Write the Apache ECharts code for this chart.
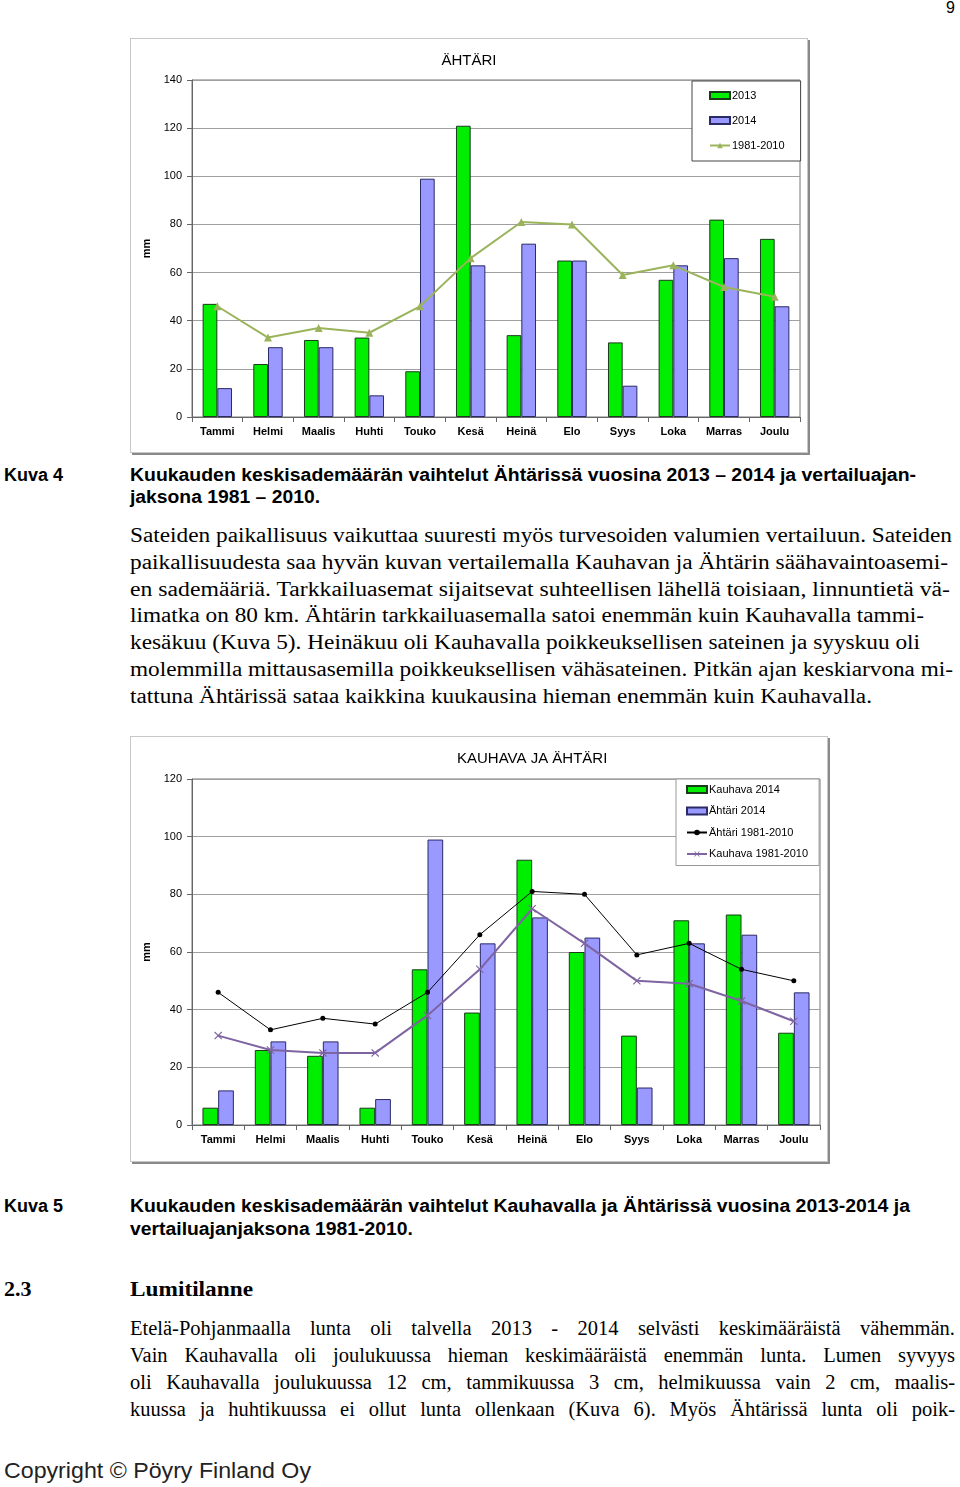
<!DOCTYPE html>
<html>
<head>
<meta charset="utf-8">
<script src="https://cdn.jsdelivr.net/npm/echarts@6/dist/echarts.min.js"></script>
<style>
  html, body { margin: 0; padding: 0; background: #fff; }
  #page { position: relative; width: 960px; height: 1487px; overflow: hidden; color: #000; }
  .box { position: absolute; background: #fff; border: 1px solid #c8c8c8; box-shadow: 2px 2px 0 #8a8a8a; box-sizing: border-box; }
  .t { position: absolute; white-space: nowrap; transform-origin: 0 50%; }
  .sans { font-family: "Liberation Sans", Arial, sans-serif; }
  .serif { font-family: "Liberation Serif", "Times New Roman", serif; }
  .cap { font-weight: bold; font-size: 18px; line-height: 22px; }
  .body { font-size: 20.5px; line-height: 26px; }
  .just { text-align: justify; text-align-last: justify; white-space: normal; }
</style>
</head>
<body>
<div id="page">
  <div class="t sans" style="left:946px;top:-1px;font-size:16px;line-height:18px;">9</div>

  <div id="c1" class="box" style="left:130px;top:38px;width:678px;height:415px;"></div>

  <div class="t sans cap" style="left:4px;top:464px;">Kuva 4</div>
  <div class="t sans cap" data-w="786" style="left:130px;top:464px;">Kuukauden keskisademäärän vaihtelut Ähtärissä vuosina 2013 – 2014 ja vertailuajan-</div>
  <div class="t sans cap" data-w="190" style="left:130px;top:486px;">jaksona 1981 – 2010.</div>

  <div class="t serif body" data-w="822" style="left:130px;top:522px;">Sateiden paikallisuus vaikuttaa suuresti myös turvesoiden valumien vertailuun. Sateiden</div>
  <div class="t serif body" data-w="818" style="left:130px;top:549px;">paikallisuudesta saa hyvän kuvan vertailemalla Kauhavan ja Ähtärin säähavaintoasemi-</div>
  <div class="t serif body" data-w="820" style="left:130px;top:576px;">en sademääriä. Tarkkailuasemat sijaitsevat suhteellisen lähellä toisiaan, linnuntietä vä-</div>
  <div class="t serif body" data-w="794" style="left:130px;top:602px;">limatka on 80 km. Ähtärin tarkkailuasemalla satoi enemmän kuin Kauhavalla tammi-</div>
  <div class="t serif body" data-w="790" style="left:130px;top:629px;">kesäkuu (Kuva 5). Heinäkuu oli Kauhavalla poikkeuksellisen sateinen ja syyskuu oli</div>
  <div class="t serif body" data-w="823" style="left:130px;top:656px;">molemmilla mittausasemilla poikkeuksellisen vähäsateinen. Pitkän ajan keskiarvona mi-</div>
  <div class="t serif body" data-w="742" style="left:130px;top:683px;">tattuna Ähtärissä sataa kaikkina kuukausina hieman enemmän kuin Kauhavalla.</div>

  <div id="c2" class="box" style="left:130px;top:736px;width:698px;height:426px;"></div>

  <div class="t sans cap" style="left:4px;top:1195px;">Kuva 5</div>
  <div class="t sans cap" data-w="780" style="left:130px;top:1195px;">Kuukauden keskisademäärän vaihtelut Kauhavalla ja Ähtärissä vuosina 2013-2014 ja</div>
  <div class="t sans cap" data-w="283" style="left:130px;top:1218px;">vertailuajanjaksona 1981-2010.</div>

  <div class="t serif" style="left:4px;top:1276px;font-size:22px;line-height:26px;font-weight:bold;">2.3</div>
  <div class="t serif" data-w="123" style="left:130px;top:1276px;font-size:22px;line-height:26px;font-weight:bold;">Lumitilanne</div>

  <div class="t serif body just" style="left:130px;top:1315px;width:825px;">Etelä-Pohjanmaalla lunta oli talvella 2013 - 2014 selvästi keskimääräistä vähemmän.</div>
  <div class="t serif body just" style="left:130px;top:1342px;width:825px;">Vain Kauhavalla oli joulukuussa hieman keskimääräistä enemmän lunta. Lumen syvyys</div>
  <div class="t serif body just" style="left:130px;top:1369px;width:825px;">oli Kauhavalla joulukuussa 12 cm, tammikuussa 3 cm, helmikuussa vain 2 cm, maalis-</div>
  <div class="t serif body just" style="left:130px;top:1396px;width:825px;">kuussa ja huhtikuussa ei ollut lunta ollenkaan (Kuva 6). Myös Ähtärissä lunta oli poik-</div>

  <div class="t sans" data-w="307" style="left:4px;top:1458px;font-size:22px;line-height:26px;color:#222;">Copyright © Pöyry Finland Oy</div>
</div>

<script>
// kuukaudet ja sademäärät (mm)
const months = ['Tammi', 'Helmi', 'Maalis', 'Huhti', 'Touko', 'Kesä', 'Heinä', 'Elo', 'Syys', 'Loka', 'Marras', 'Joulu'];
const ahtari2013 = [47, 22, 32, 33, 19, 121, 34, 65, 31, 57, 82, 74];
const ahtari2014 = [12, 29, 29, 9, 99, 63, 72, 65, 13, 63, 66, 46];
const ahtariNormal = [46, 33, 37, 35, 46, 66, 81, 80, 59, 63, 54, 50];
const kauhava2014 = [6, 26, 24, 6, 54, 39, 92, 60, 31, 71, 73, 32];
const kauhavaNormal = [31, 26, 25, 25, 38, 54, 75, 63, 50, 49, 43, 36];
const yMax1 = 140;
const yMax2 = 120;
const yStep = 20;

// tekstirivien leveydet kohdalleen
document.querySelectorAll('[data-w]').forEach(el => {
  const w = el.getBoundingClientRect().width;
  const target = +el.dataset.w;
  if (w > 0) el.style.transform = 'scaleX(' + (target / w) + ')';
});

const font = '"Liberation Sans", Arial, sans-serif';
const green = '#00ee00';
const blue = '#9999ff';

function axes(yMax) {
  return {
    xAxis: {
      type: 'category',
      data: months,
      axisLine: { lineStyle: { color: '#666', width: 1 } },
      axisTick: { show: true, length: 5, lineStyle: { color: '#666' } },
      axisLabel: { color: '#000', fontFamily: font, fontSize: 11, fontWeight: 'bold', margin: 9 }
    },
    yAxis: {
      type: 'value',
      min: 0, max: yMax, interval: yStep,
      name: 'mm',
      nameLocation: 'middle',
      nameGap: 36,
      nameTextStyle: { color: '#000', fontFamily: font, fontSize: 11, fontWeight: 'bold' },
      axisLine: { show: true, lineStyle: { color: '#666' } },
      axisTick: { show: true, length: 5, lineStyle: { color: '#666' } },
      axisLabel: { color: '#000', fontFamily: font, fontSize: 11, margin: 10 },
      splitLine: { lineStyle: { color: '#a0a0a0', width: 1 } }
    }
  };
}

function barSeries(name, data, color, edge, gap) {
  return {
    name: name, type: 'bar', data: data,
    barGap: '0%', barCategoryGap: gap,
    itemStyle: { color: color, borderColor: edge, borderWidth: 1 },
    animation: false
  };
}

// Kuva 4: Ähtäri
const chart1 = echarts.init(document.getElementById('c1'));
const a1 = axes(yMax1);
chart1.setOption({
  animation: false,
  title: {
    text: 'ÄHTÄRI', left: 'center', top: 9,
    textStyle: { fontFamily: font, fontSize: 15, fontWeight: 'normal', color: '#000' }
  },
  grid: { left: 61, top: 41, width: 608, height: 337, show: true, borderColor: '#777', borderWidth: 1 },
  legend: {
    orient: 'vertical', left: 561, top: 42,
    padding: [9, 16, 10, 17], itemGap: 14,
    itemWidth: 20, itemHeight: 7,
    backgroundColor: '#fff', borderColor: '#444', borderWidth: 1,
    textStyle: { fontFamily: font, fontSize: 11, color: '#000', padding: [0, 0, 0, -3] },
    data: [{ name: '2013', icon: 'rect' }, { name: '2014', icon: 'rect' }, { name: '1981-2010' }]
  },
  xAxis: a1.xAxis,
  yAxis: a1.yAxis,
  series: [
    barSeries('2013', ahtari2013, green, '#1a3a1a', '42%'),
    barSeries('2014', ahtari2014, blue, '#2a2a66', '42%'),
    {
      name: '1981-2010', type: 'line', data: ahtariNormal,
      symbol: 'triangle', symbolSize: 8,
      lineStyle: { color: '#9bb45c', width: 2 },
      itemStyle: { color: '#9bb45c' },
      animation: false
    }
  ]
});

// Kuva 5: Kauhava ja Ähtäri
const xMark = 'path://M0,1L1,0L5,4L9,0L10,1L6,5L10,9L9,10L5,6L1,10L0,9L4,5Z';
const chart2 = echarts.init(document.getElementById('c2'));
const a2 = axes(yMax2);
chart2.setOption({
  animation: false,
  title: {
    text: 'KAUHAVA JA ÄHTÄRI', left: 321, top: 9,
    textStyle: { fontFamily: font, fontSize: 15, fontWeight: 'normal', color: '#000' }
  },
  grid: { left: 61, top: 42, width: 628, height: 346, show: true, borderColor: '#777', borderWidth: 1 },
  legend: {
    orient: 'vertical', left: 545, top: 42,
    padding: [5, 11, 6, 10], itemGap: 10.5,
    itemWidth: 20, itemHeight: 7,
    backgroundColor: '#fff', borderColor: '#999', borderWidth: 1,
    textStyle: { fontFamily: font, fontSize: 11, color: '#000', padding: [0, 0, 0, -3] },
    data: [
      { name: 'Kauhava 2014', icon: 'rect' },
      { name: 'Ähtäri 2014', icon: 'rect' },
      { name: 'Ähtäri 1981-2010' },
      { name: 'Kauhava 1981-2010' }
    ]
  },
  xAxis: a2.xAxis,
  yAxis: a2.yAxis,
  series: [
    barSeries('Kauhava 2014', kauhava2014, green, '#1a3a1a', '40%'),
    barSeries('Ähtäri 2014', ahtari2014, blue, '#2a2a66', '40%'),
    {
      name: 'Ähtäri 1981-2010', type: 'line', data: ahtariNormal,
      symbol: 'circle', symbolSize: 5,
      lineStyle: { color: '#000', width: 1 },
      itemStyle: { color: '#000' },
      animation: false
    },
    {
      name: 'Kauhava 1981-2010', type: 'line', data: kauhavaNormal,
      symbol: xMark, symbolSize: 8,
      lineStyle: { color: '#7f64a2', width: 2 },
      itemStyle: { color: '#7f64a2' },
      animation: false
    }
  ]
});
</script>
</body>
</html>
